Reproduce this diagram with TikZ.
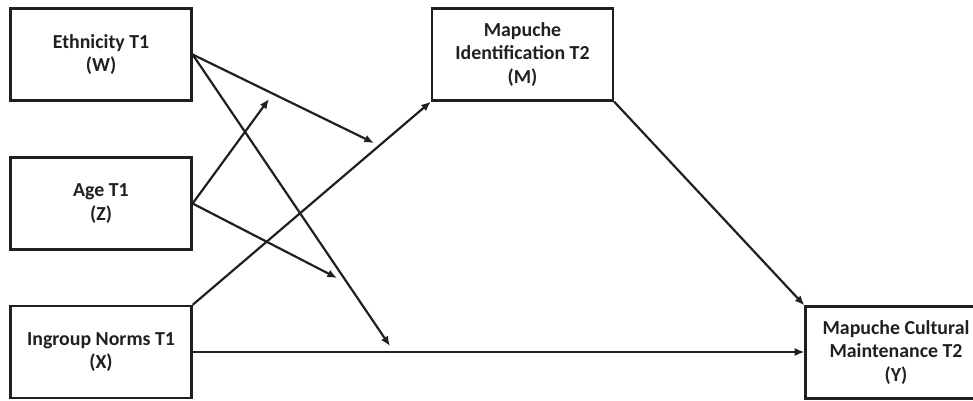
\documentclass[tikz,border=0pt]{standalone}
\usepackage{fontspec}
\setmainfont{Carlito}
\usetikzlibrary{arrows.meta}
\definecolor{inkc}{HTML}{231F20}
\tikzset{
  varbox/.style={draw=inkc, text=inkc, line width=1.3pt, minimum width=3.62cm,
    minimum height=1.84cm, inner sep=0pt, align=center,
    font=\fontsize{11.3}{13.6}\selectfont\bfseries},
  path/.style={draw=inkc, line width=1.25pt, -{Latex[length=5.5pt,width=4.6pt]}}
}
\begin{document}
\begin{tikzpicture}[x=0.02cm, y=-0.02cm]
  \useasboundingbox (0,0) rectangle (973,400);
    %%predictors
    \node[varbox] (W) at (101,54.5) {Ethnicity T1\\(W)};
    \node[varbox] (Z) at (101,203.5) {Age T1\\(Z)};
    \node[varbox] (X) at (101,352) {Ingroup Norms T1\\(X)};
    %%mediator and outcome
    \node[varbox] (M) at (522.5,54.5) {Mapuche\\Identification T2\\(M)};
    \node[varbox] (Y) at (896,352.5) {Mapuche Cultural\\Maintenance T2\\(Y)};

    %%ends of the moderating paths
    \coordinate (wm) at (374,143);
    \coordinate (wy) at (390,346);
    \coordinate (zw) at (269,99);
    \coordinate (zy) at (337,278);

    %%main paths
    \draw[path] (X.north east) to (M.south west);
    \draw[path] (M.south east) to (Y.north west);
    \draw[path] (X.east) to (X.east -| Y.west);

    %%moderation
    \draw[path] (W.east) to (wm);
    \draw[path] (W.east) to (wy);
    \draw[path] (Z.east) to (zw);
    \draw[path] (Z.east) to (zy);
\end{tikzpicture}
\end{document}
